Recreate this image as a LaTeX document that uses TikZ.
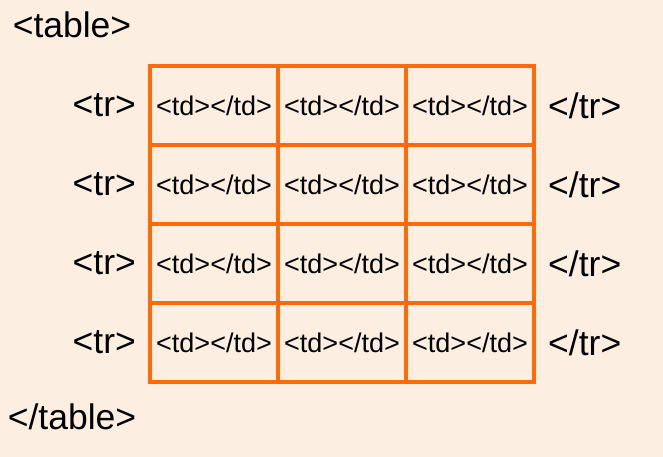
\documentclass[tikz,border=0pt]{standalone}
\usepackage{fontspec}
\setmainfont{Liberation Sans}
\usetikzlibrary{positioning}

\definecolor{paper}{RGB}{253,238,226}
\definecolor{gridorange}{RGB}{255,106,10}

\newcommand{\cellW}{128pt}
\newcommand{\cellH}{79pt}
\newcommand{\gridLineWidth}{3.2pt}
\newcommand{\tagGap}{14pt}

\tikzset{
  tdcell/.style={draw=gridorange, line width=\gridLineWidth, minimum width=\cellW, minimum height=\cellH,
    inner sep=0pt, outer sep=0pt, font=\fontsize{27}{30}\selectfont},
  bigtag/.style={inner sep=0pt, font=\fontsize{35.5}{38}\selectfont}
}

\begin{document}
\begin{tikzpicture}[x=1pt,y=-1pt]
        % Page
        \fill[paper] (0,0) rectangle (663,457);
        \useasboundingbox (0,0) rectangle (663,457);

        % Outer tags
        \node[bigtag] (tableOpen) at (72,25) {<table>};
        \node[bigtag] (tableClose) at (72,417) {</table>};

        % Row 1
        \node[tdcell] (c11) at (214,105.5) {<td></td>};
        \node[tdcell, right=0pt of c11] (c12) {<td></td>};
        \node[tdcell, right=0pt of c12] (c13) {<td></td>};

        % Row 2
        \node[tdcell, below=0pt of c11] (c21) {<td></td>};
        \node[tdcell, right=0pt of c21] (c22) {<td></td>};
        \node[tdcell, right=0pt of c22] (c23) {<td></td>};

        % Row 3
        \node[tdcell, below=0pt of c21] (c31) {<td></td>};
        \node[tdcell, right=0pt of c31] (c32) {<td></td>};
        \node[tdcell, right=0pt of c32] (c33) {<td></td>};

        % Row 4
        \node[tdcell, below=0pt of c31] (c41) {<td></td>};
        \node[tdcell, right=0pt of c41] (c42) {<td></td>};
        \node[tdcell, right=0pt of c42] (c43) {<td></td>};

        % Row tags
        \node[bigtag, left=\tagGap of c11] (trOpenA) {<tr>};
        \node[bigtag, left=\tagGap of c21] (trOpenB) {<tr>};
        \node[bigtag, left=\tagGap of c31] (trOpenC) {<tr>};
        \node[bigtag, left=\tagGap of c41] (trOpenD) {<tr>};
        \node[bigtag, right=\tagGap of c13] (trCloseA) {</tr>};
        \node[bigtag, right=\tagGap of c23] (trCloseB) {</tr>};
        \node[bigtag, right=\tagGap of c33] (trCloseC) {</tr>};
        \node[bigtag, right=\tagGap of c43] (trCloseD) {</tr>};
    \end{tikzpicture}
\end{document}
